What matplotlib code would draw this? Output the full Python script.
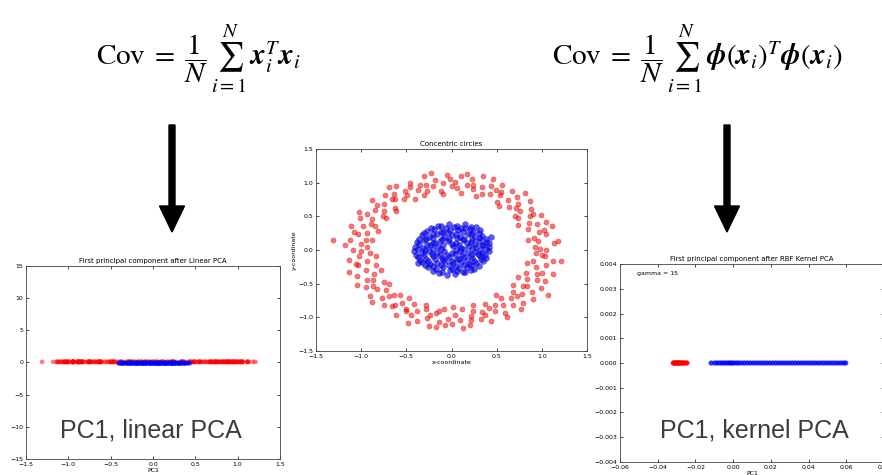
import matplotlib.pyplot as plt
import matplotlib.patches as patches
import numpy as np

plt.rcParams['mathtext.fontset'] = 'stix'

# -----------------------------
# data: two concentric circles (outer = red, inner = blue)
# -----------------------------
outer_x = [1.05, 0.92, 1.13, 0.96, 0.85, 1.05, 0.97, 1.11, 0.85, 0.95, 0.86, 0.99,
           0.87, 0.74, 0.88, 0.76, 0.87, 0.74, 0.64, 0.72, 0.62, 0.67, 0.50, 0.55,
           0.56, 0.43, 0.44, 0.34, 0.34, 0.35, 0.24, 0.23, 0.17, 0.11, 0.10, 0.04,
           0.00, -0.05, -0.09, -0.12, -0.18, -0.21, -0.30, -0.27, -0.35, -0.37, -0.46, -0.40,
           -0.51, -0.61, -0.53, -0.64, -0.63, -0.74, -0.63, -0.75, -0.88, -0.75, -0.85, -0.73,
           -0.94, -0.88, -1.01, -0.85, -0.98, -1.11, -0.94, -1.04, -0.88, -1.12, -1.00, -0.94,
           -1.09, -0.90, -1.02, -1.14, -0.94, -1.03, -0.84, -0.95, -1.05, -0.86, -0.94, -0.87,
           -0.95, -0.75, -0.83, -0.90, -0.72, -0.77, -0.69, -0.75, -0.57, -0.63, -0.55, -0.61,
           -0.50, -0.42, -0.45, -0.38, -0.38, -0.28, -0.27, -0.25, -0.17, -0.14, -0.08, -0.04,
           0.00, 0.04, 0.09, 0.12, 0.20, 0.22, 0.24, 0.33, 0.34, 0.44, 0.37, 0.48,
           0.48, 0.59, 0.57, 0.55, 0.68, 0.66, 0.79, 0.68, 0.78, 0.68, 0.89, 0.83,
           0.99, 0.83, 0.95, 0.82, 0.95, 1.12, 0.93, 1.05, 0.90, 1.21, 1.03, 0.94,
           -1.31, 1.07, -0.17,
           0.98, 1.18, 0.91, 1.02, 1.05, 0.74, 0.90, 0.70, 0.71, 0.81, 0.53, 0.54,
           0.49, 0.46, 0.27, 0.24, 0.17, 0.06,
           -0.02, -0.09, -0.23, -0.28, -0.31, -0.46, -0.49, -0.69, -0.66, -0.61, -0.83, -0.76,
           -1.02, -0.89, -0.81, -1.08, -0.95, -1.18,
           -1.00, -0.84, -1.06, -1.13, -0.78, -1.05, -0.87, -0.69, -0.88, -0.64, -0.66, -0.47,
           -0.50, -0.48, -0.28, -0.24, -0.14, -0.07,
           0.02, 0.13, 0.21, 0.24, 0.37, 0.42, 0.61, 0.49, 0.77, 0.72, 0.90, 0.79,
           0.74, 1.03, 1.00, 0.83, 1.12, 1.00]
outer_y = [0.00, 0.04, 0.10, 0.13, 0.15, 0.23, 0.26, 0.35, 0.31, 0.39, 0.40, 0.52,
           0.50, 0.47, 0.61, 0.58, 0.73, 0.68, 0.64, 0.78, 0.74, 0.87, 0.71, 0.86,
           0.97, 0.83, 0.95, 0.83, 0.94, 1.10, 0.90, 1.05, 0.97, 0.85, 1.10, 1.01,
           0.95, 1.12, 1.00, 0.87, 1.04, 0.95, 1.10, 0.87, 0.97, 0.89, 0.99, 0.76,
           0.87, 0.95, 0.76, 0.83, 0.75, 0.81, 0.63, 0.69, 0.74, 0.58, 0.60, 0.47,
           0.54, 0.46, 0.47, 0.35, 0.36, 0.35, 0.25, 0.23, 0.15, 0.15, 0.09, 0.04,
           0.00, -0.04, -0.09, -0.15, -0.17, -0.23, -0.23, -0.30, -0.38, -0.36, -0.44, -0.45,
           -0.55, -0.48, -0.58, -0.69, -0.60, -0.71, -0.69, -0.82, -0.67, -0.82, -0.79, -0.96,
           -0.87, -0.80, -0.97, -0.91, -1.05, -0.88, -1.01, -1.13, -0.94, -1.07, -0.87, -1.02,
           -1.10, -0.96, -1.04, -0.88, -1.11, -0.98, -0.90, -1.03, -0.92, -1.06, -0.80, -0.91,
           -0.82, -0.93, -0.82, -0.71, -0.81, -0.71, -0.79, -0.62, -0.66, -0.52, -0.63, -0.53,
           -0.57, -0.43, -0.44, -0.34, -0.35, -0.35, -0.25, -0.23, -0.16, -0.16, -0.09, -0.04,
           0.15, -0.67, -1.14,
           0.02, 0.13, 0.18, 0.30, 0.41, 0.37, 0.54, 0.51, 0.63, 0.84, 0.66, 0.81,
           0.89, 1.05, 0.80, 0.97, 1.13, 0.92,
           1.05, 0.83, 1.14, 0.96, 0.81, 0.93, 0.81, 0.94, 0.75, 0.58, 0.67, 0.51,
           0.56, 0.39, 0.28, 0.26, 0.15, 0.08,
           -0.02, -0.09, -0.21, -0.33, -0.30, -0.52, -0.53, -0.50, -0.77, -0.67, -0.83, -0.71,
           -0.91, -1.08, -0.81, -0.97, -0.90, -1.12,
           -0.85, -1.16, -1.04, -0.81, -0.96, -0.86, -1.00, -0.67, -0.88, -0.69, -0.73, -0.53,
           -0.40, -0.46, -0.34, -0.20, -0.17, -0.07]

inner_x = [-0.12, -0.03, 0.06, 0.15, 0.22,
           -0.27, -0.19, -0.10, -0.02, 0.07, 0.15, 0.24, 0.31,
           -0.33, -0.25, -0.16, -0.08, 0.01, 0.09, 0.18, 0.26, 0.34,
           -0.38, -0.30, -0.21, -0.13, -0.04, 0.05, 0.13, 0.22, 0.30, 0.38,
           -0.40, -0.32, -0.24, -0.15, 0.02, 0.10, 0.19, 0.27, 0.35, 0.42,
           -0.41, -0.33, -0.25, -0.16, -0.08, 0.01, 0.09, 0.18, 0.26, 0.34, 0.41,
           -0.37, -0.28, -0.20, -0.11, -0.03, 0.06, 0.14, 0.23, 0.31, 0.38,
           -0.33, -0.24, -0.16, -0.07, 0.02, 0.10, 0.19, 0.27, 0.35,
           -0.26, -0.17, -0.09, 0.00, 0.08, 0.17, 0.25,
           -0.14, -0.05, 0.04, 0.13,
           -0.37, 0.44,
           -0.23, -0.15, -0.06, 0.03, 0.11, 0.20, 0.27,
           -0.30, -0.21, -0.12, -0.04, 0.05, 0.13, 0.22, 0.30,
           -0.36, -0.28, -0.20, -0.11, -0.03, 0.06, 0.14, 0.23, 0.31, 0.38,
           -0.36, -0.27, -0.18, -0.09, 0.00, 0.08, 0.17, 0.26, 0.34, 0.41,
           -0.37, -0.29, -0.20, -0.12, 0.05, 0.14, 0.23, 0.31, 0.38,
           -0.39, -0.30, -0.22, -0.13, -0.05, 0.04, 0.12, 0.21, 0.29, 0.37,
           -0.35, -0.26, -0.18, -0.09, 0.00, 0.08, 0.17, 0.25, 0.33,
           -0.29, -0.20, -0.12, -0.03, 0.05, 0.14, 0.22, 0.30,
           -0.20, -0.11, -0.02, 0.06, 0.15, 0.22]
inner_y = [0.36, 0.39, 0.35, 0.38, 0.34,
           0.28, 0.31, 0.27, 0.30, 0.29, 0.32, 0.27, 0.30,
           0.22, 0.19, 0.23, 0.20, 0.22, 0.19, 0.23, 0.20, 0.21,
           0.12, 0.15, 0.11, 0.14, 0.13, 0.11, 0.15, 0.12, 0.14, 0.12,
           0.05, 0.03, 0.07, 0.04, 0.06, 0.03, 0.06, 0.04, 0.07, 0.04,
           -0.02, -0.05, -0.01, -0.04, -0.02, -0.05, -0.01, -0.04, -0.03, -0.05, -0.02,
           -0.10, -0.13, -0.09, -0.12, -0.11, -0.13, -0.10, -0.12, -0.09, -0.12,
           -0.18, -0.21, -0.19, -0.17, -0.20, -0.18, -0.21, -0.19, -0.17,
           -0.26, -0.28, -0.25, -0.29, -0.27, -0.26, -0.28,
           -0.34, -0.37, -0.35, -0.33,
           -0.20, 0.20,
           0.33, 0.35, 0.32, 0.34, 0.33, 0.31, 0.34,
           0.25, 0.24, 0.26, 0.25, 0.23, 0.26, 0.24, 0.25,
           0.17, 0.16, 0.18, 0.16, 0.17, 0.18, 0.16, 0.17, 0.18, 0.16,
           0.09, 0.08, 0.10, 0.08, 0.09, 0.08, 0.10, 0.09, 0.08, 0.10,
           0.01, 0.00, 0.02, 0.01, 0.00, 0.02, 0.01, 0.00, 0.01,
           -0.07, -0.08, -0.06, -0.07, -0.08, -0.06, -0.07, -0.08, -0.06, -0.07,
           -0.15, -0.16, -0.14, -0.15, -0.16, -0.14, -0.15, -0.16, -0.14,
           -0.23, -0.24, -0.22, -0.23, -0.24, -0.22, -0.23, -0.24,
           -0.31, -0.32, -0.30, -0.31, -0.32, -0.30]

# first component after RBF kernel PCA (gamma = 15)
kpca_red = [-0.0318, -0.0314, -0.0310, -0.0306, -0.0302, -0.0298, -0.0294, -0.0290,
            -0.0286, -0.0281, -0.0276, -0.0271, -0.0266, -0.0260, -0.0252, -0.0244]
kpca_blue = [-0.0117, -0.0098, -0.0085, -0.0072, -0.0060, -0.0048, -0.0036, -0.0025,
             -0.0015, -0.0005, 0.0005, 0.0018, 0.0030, 0.0045, 0.0060, 0.0075,
             0.0090, 0.0105, 0.0120, 0.0135, 0.0150, 0.0165, 0.0180, 0.0195,
             0.0210, 0.0225, 0.0240, 0.0255, 0.0270, 0.0285, 0.0300, 0.0315,
             0.0330, 0.0345, 0.0360, 0.0375, 0.0390, 0.0405, 0.0420, 0.0435,
             0.0450, 0.0465, 0.0480, 0.0495, 0.0510, 0.0525, 0.0540, 0.0555,
             0.0570, 0.0585, 0.0597]

cov_linear = (r'$\mathrm{Cov}\;=\;\dfrac{1}{N}\,\sum_{i=1}^{N}\,'
              r'\boldsymbol{x}_i^T\boldsymbol{x}_i$')
cov_kernel = (r'$\mathrm{Cov}\;=\;\dfrac{1}{N}\,\sum_{i=1}^{N}\,'
              r'\boldsymbol{\phi}(\boldsymbol{x}_i)^T\boldsymbol{\phi}(\boldsymbol{x}_i)$')

TICK_FS = 4.5


def style_axes(ax):
    ax.tick_params(direction='in', top=True, right=True, length=2, width=0.5,
                   labelsize=TICK_FS, pad=2)
    for sp in ax.spines.values():
        sp.set_linewidth(0.6)
        sp.set_color('#444444')


fig = plt.figure(figsize=(8.82, 4.75), dpi=100)

# --- centre: concentric circles ---
ax_c = fig.add_axes([0.3583, 0.2611, 0.3073, 0.4253])
ax_c.scatter(outer_x, outer_y, s=14, c='red', edgecolors='darkred',
             linewidths=0.3, alpha=0.55)
ax_c.scatter(inner_x, inner_y, s=18, c='blue', edgecolors='navy',
             linewidths=0.3, alpha=0.65)
ax_c.set_xlim(-1.5, 1.5)
ax_c.set_ylim(-1.5, 1.5)
ax_c.set_xticks(np.arange(-1.5, 1.51, 0.5))
ax_c.set_yticks(np.arange(-1.5, 1.51, 0.5))
ax_c.set_title('Concentric circles', fontsize=5, pad=2)
ax_c.set_xlabel('x-coordinate', fontsize=4.5, labelpad=1)
ax_c.set_ylabel('y-coordinate', fontsize=4.5, labelpad=1)
style_axes(ax_c)

# --- left: linear PCA ---
ax_l = fig.add_axes([0.0295, 0.0337, 0.288, 0.4063])
ax_l.scatter(outer_x, np.zeros(len(outer_x)) + 0.1, s=12, c='red',
             edgecolors='none', alpha=0.5)
ax_l.scatter(inner_x, np.zeros(len(inner_x)) - 0.1, s=12, c='blue',
             edgecolors='none', alpha=0.5)
ax_l.set_xlim(-1.5, 1.5)
ax_l.set_ylim(-15, 15)
ax_l.set_xticks(np.arange(-1.5, 1.51, 0.5))
ax_l.set_yticks(np.arange(-15, 16, 5))
ax_l.set_title('First principal component after Linear PCA', fontsize=5, pad=2)
ax_l.set_xlabel('PC1', fontsize=4.5, labelpad=1)
style_axes(ax_l)

# --- right: RBF kernel PCA ---
ax_r = fig.add_axes([0.703, 0.0274, 0.2993, 0.4168])
ax_r.scatter(kpca_red, np.zeros(len(kpca_red)), s=14, c='red',
             edgecolors='none', alpha=0.8)
ax_r.scatter(kpca_blue, np.zeros(len(kpca_blue)), s=14, c='blue',
             edgecolors='none', alpha=0.8)
ax_r.set_xlim(-0.06, 0.08)
ax_r.set_ylim(-0.004, 0.004)
ax_r.set_xticks(np.arange(-0.06, 0.081, 0.02))
ax_r.set_yticks(np.arange(-0.004, 0.0041, 0.001))
ax_r.set_title('First principal component after RBF Kernel PCA', fontsize=5, pad=2)
ax_r.set_xlabel('PC1', fontsize=4.5, labelpad=1)
ax_r.text(0.065, 0.95, 'gamma = 15', transform=ax_r.transAxes,
          fontsize=4.5, ha='left', va='center')
style_axes(ax_r)

# --- covariance formulas ---
fig.text(0.225, 0.875, cov_linear, fontsize=21, ha='center', va='center')
fig.text(0.790, 0.875, cov_kernel, fontsize=21, ha='center', va='center')

# --- arrows from formula to result ---
for x_px in (172, 727):
    fig.add_artist(patches.FancyArrow(
        x_px / 100, 3.50, 0, -1.07, width=0.06, head_width=0.25,
        head_length=0.26, length_includes_head=True, color='black',
        transform=fig.dpi_scale_trans))

# --- captions ---
fig.text(0.068, 0.093, 'PC1, linear PCA', fontsize=18, color='#3c3c3c',
         family='Liberation Sans', ha='left', va='center')
fig.text(0.748, 0.093, 'PC1, kernel PCA', fontsize=18, color='#3c3c3c',
         family='Liberation Sans', ha='left', va='center')

fig.savefig('out.png', dpi=100)
